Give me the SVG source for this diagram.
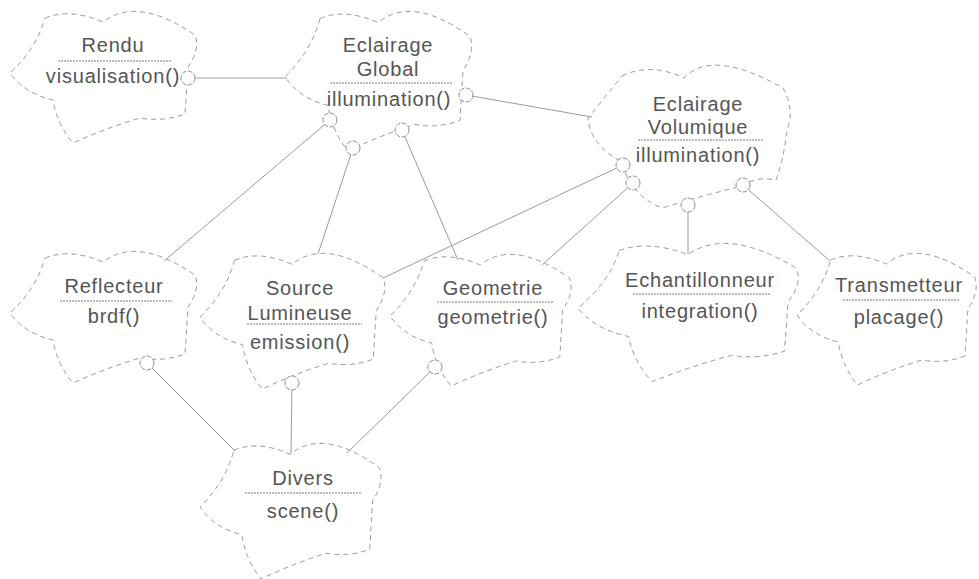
<svg xmlns="http://www.w3.org/2000/svg" width="979" height="579" viewBox="0 0 979 579">
<style>
.cloud{fill:none;stroke:#9a9a9a;stroke-width:1;stroke-dasharray:5 4}
.sep{stroke:#7a7a7a;stroke-width:1;stroke-dasharray:2 1}
#connectors line{stroke:#9a9a9a;stroke-width:1}
.port{fill:#fff;stroke:#8e8e8e;stroke-width:1;stroke-dasharray:5 1.5}
text{font-family:"Liberation Sans",Arial,Helvetica,sans-serif;font-size:20px;letter-spacing:0.8px;fill:#555;text-anchor:middle}
</style>
<defs>
<path id="cloudShape" class="cloud" vector-effect="non-scaling-stroke" d="M35,8 Q60,-2 93,12 Q127,-14.5 185,25 Q190.5,39 178,57 Q176.5,80.5 175,104 Q153.5,112 130,108 Q96,118 63,133 Q47,114.5 43,90 Q14.5,83.5 0,63 Q26.5,38.5 35,8 Z"/>
</defs>
<rect width="979" height="579" fill="#fff"/>
<g id="connectors">
<line x1="188" y1="78" x2="287" y2="78"/>
<line x1="466" y1="95" x2="592" y2="117"/>
<line x1="330" y1="120" x2="164" y2="261"/>
<line x1="353" y1="148" x2="318" y2="254"/>
<line x1="402" y1="130" x2="458" y2="260"/>
<line x1="623" y1="165" x2="383" y2="278"/>
<line x1="633" y1="183" x2="542" y2="265"/>
<line x1="688" y1="205" x2="688" y2="254"/>
<line x1="743" y1="185" x2="830" y2="261"/>
<line x1="147" y1="363" x2="235" y2="451"/>
<line x1="292" y1="383" x2="291" y2="454"/>
<line x1="435" y1="367" x2="347" y2="453"/>
</g>
<g id="rendu">
<use href="#cloudShape" transform="translate(10,10)"/>
<text x="113" y="52">Rendu</text>
<line class="sep" x1="58" y1="61" x2="172" y2="61"/>
<text x="113" y="83">visualisation()</text>
<circle class="port" cx="188" cy="78" r="7"/>
</g>
<g id="eclairage-global">
<use href="#cloudShape" transform="translate(285,10) scale(1,1.06)"/>
<text x="388" y="52">Eclairage</text>
<text x="388" y="76">Global</text>
<line class="sep" x1="330" y1="83" x2="452" y2="83"/>
<text x="389" y="106">illumination()</text>
<circle class="port" cx="466" cy="95" r="7"/>
<circle class="port" cx="330" cy="120" r="7"/>
<circle class="port" cx="353" cy="148" r="7"/>
<circle class="port" cx="402" cy="130" r="7"/>
</g>
<g id="eclairage-volumique">
<path class="cloud" d="M622,76 Q650,62 684,78 Q712,48 783,88 Q795,110 787,130 Q784,158 776,180 Q755,176 742,186 Q705,195 662,208 Q630,195 622,162 Q590,145 588,118 Q605,97 622,76 Z"/>
<text x="698" y="111">Eclairage</text>
<text x="698" y="134">Volumique</text>
<line class="sep" x1="638" y1="140" x2="763" y2="140"/>
<text x="698" y="162">illumination()</text>
<circle class="port" cx="623" cy="165" r="7"/>
<circle class="port" cx="633" cy="183" r="7"/>
<circle class="port" cx="688" cy="205" r="7"/>
<circle class="port" cx="743" cy="185" r="7"/>
</g>
<g id="reflecteur">
<use href="#cloudShape" transform="translate(10,250)"/>
<text x="114" y="293">Reflecteur</text>
<line class="sep" x1="60" y1="301" x2="172" y2="301"/>
<text x="114" y="323">brdf()</text>
<circle class="port" cx="147" cy="363" r="7"/>
</g>
<g id="source-lumineuse">
<use href="#cloudShape" transform="translate(200,252) scale(0.99,1.03)"/>
<text x="300" y="295">Source</text>
<text x="300" y="320">Lumineuse</text>
<line class="sep" x1="247" y1="324" x2="362" y2="324"/>
<text x="300" y="349">emission()</text>
<circle class="port" cx="292" cy="383" r="7"/>
</g>
<g id="geometrie">
<use href="#cloudShape" transform="translate(390,253) scale(0.97,1)"/>
<text x="493" y="295">Geometrie</text>
<line class="sep" x1="437" y1="302" x2="553" y2="302"/>
<text x="493" y="324">geometrie()</text>
<circle class="port" cx="435" cy="367" r="7"/>
</g>
<g id="echantillonneur">
<use href="#cloudShape" transform="translate(578,242) scale(1.18,1.05)"/>
<text x="700" y="287">Echantillonneur</text>
<line class="sep" x1="633" y1="294" x2="770" y2="294"/>
<text x="700" y="318">integration()</text>
</g>
<g id="transmetteur">
<use href="#cloudShape" transform="translate(797,252) scale(0.96,1)"/>
<text x="899" y="292">Transmetteur</text>
<line class="sep" x1="843" y1="300" x2="960" y2="300"/>
<text x="899" y="324">placage()</text>
</g>
<g id="divers">
<use href="#cloudShape" transform="translate(200,442) scale(0.97,1.03)"/>
<text x="303" y="485">Divers</text>
<line class="sep" x1="245" y1="493" x2="362" y2="493"/>
<text x="303" y="518">scene()</text>
</g>
</svg>
